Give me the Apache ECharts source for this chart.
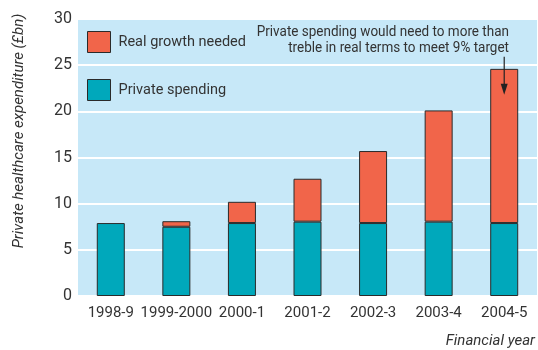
<!DOCTYPE html>
<html><head><meta charset="utf-8">
<script src="https://cdn.jsdelivr.net/npm/echarts@6/dist/echarts.min.js"></script>
<style>html,body{margin:0;padding:0;background:#fff}#c{width:538px;height:350px}</style>
</head><body><div id="c"></div>
<script>
const categories = ['1998-9','1999-2000','2000-1','2001-2','2002-3','2003-4','2004-5'];
const privateSpending = [7.9, 7.5, 7.9, 8.05, 7.9, 8.05, 7.9];
const realGrowthNeeded = [null, 0.6, 2.3, 4.65, 7.8, 12.05, 16.7];
const yMin = 0, yMax = 30, yStep = 5;
const annotationLines = ['Private spending would need to more than', 'treble in real terms to meet 9% target'];

const FONT = "Roboto, sans-serif";
const FS = 15;
const chart = echarts.init(document.getElementById('c'));
chart.setOption({
  animation: false,
  textStyle: {fontFamily: FONT},
  grid: {left: 78, right: 0, top: 19, bottom: 54, show: true, backgroundColor: '#c7e8f8', borderWidth: 0},
  legend: {
    orient: 'vertical', left: 87, top: 31, padding: 0, itemWidth: 23, itemHeight: 21, itemGap: 26,
    icon: 'rect',
    data: ['Real growth needed', 'Private spending'],
    textStyle: {fontFamily: FONT, fontSize: 14.5, color: '#333', padding: [0,0,0,3]},
    itemStyle: {borderColor: '#2a2a2a', borderWidth: 1}
  },
  xAxis: {
    type: 'category', data: categories,
    axisLine: {show: false}, axisTick: {show: false},
    axisLabel: {fontFamily: FONT, fontSize: FS, color: '#333', margin: 10, interval: 0},
    name: 'Financial year', nameLocation: 'end', nameGap: 0,
    nameTextStyle: {fontFamily: FONT, fontSize: FS, fontStyle: 'italic', color: '#333', align: 'right', verticalAlign: 'top', padding: [38,2,0,0]}
  },
  yAxis: {
    type: 'value', min: yMin, max: yMax, interval: yStep,
    axisLine: {show: false}, axisTick: {show: false},
    axisLabel: {fontFamily: FONT, fontSize: FS + 1, color: '#333', margin: 6},
    splitLine: {lineStyle: {color: '#ffffff', width: 2}}
  },
  series: [
    {name: 'Private spending', type: 'bar', stack: 'a', data: privateSpending, barWidth: 28,
     itemStyle: {color: '#00a8bb', borderColor: '#2a2a2a', borderWidth: 1}},
    {name: 'Real growth needed', type: 'bar', stack: 'a', data: realGrowthNeeded, barWidth: 28,
     itemStyle: {color: '#f1654a', borderColor: '#2a2a2a', borderWidth: 1}}
  ]
});

const last = categories.length - 1;
const total = privateSpending[last] + realGrowthNeeded[last];
const ax = chart.convertToPixel({seriesIndex: 0}, [last, total])[0];
const yTop = chart.convertToPixel({yAxisIndex: 0}, 25.9);
const yBotPx = chart.convertToPixel({yAxisIndex: 0}, 21.8);
chart.setOption({
  graphic: [
    {type: 'text', x: 19, y: 131, rotation: Math.PI/2, z: 100,
     style: {text: 'Private healthcare expenditure (£bn)', font: 'italic ' + FS + 'px ' + FONT, fill: '#333', align: 'center', verticalAlign: 'middle'}},
    {type: 'text', x: 509, y: 32, z: 100, scaleX: 0.9,
     style: {text: annotationLines[0], font: FS + 'px ' + FONT, fill: '#333', align: 'right', verticalAlign: 'middle'}},
    {type: 'text', x: 509, y: 48, z: 100, scaleX: 0.9,
     style: {text: annotationLines[1], font: FS + 'px ' + FONT, fill: '#333', align: 'right', verticalAlign: 'middle'}},
    {type: 'line', z: 100, shape: {x1: ax, y1: yTop, x2: ax, y2: yBotPx - 8}, style: {stroke: '#222', lineWidth: 1.2}},
    {type: 'polygon', z: 100, shape: {points: [[ax - 3.5, yBotPx - 11], [ax + 3.5, yBotPx - 11], [ax, yBotPx]]}, style: {fill: '#222'}}
  ]
});
</script></body></html>
